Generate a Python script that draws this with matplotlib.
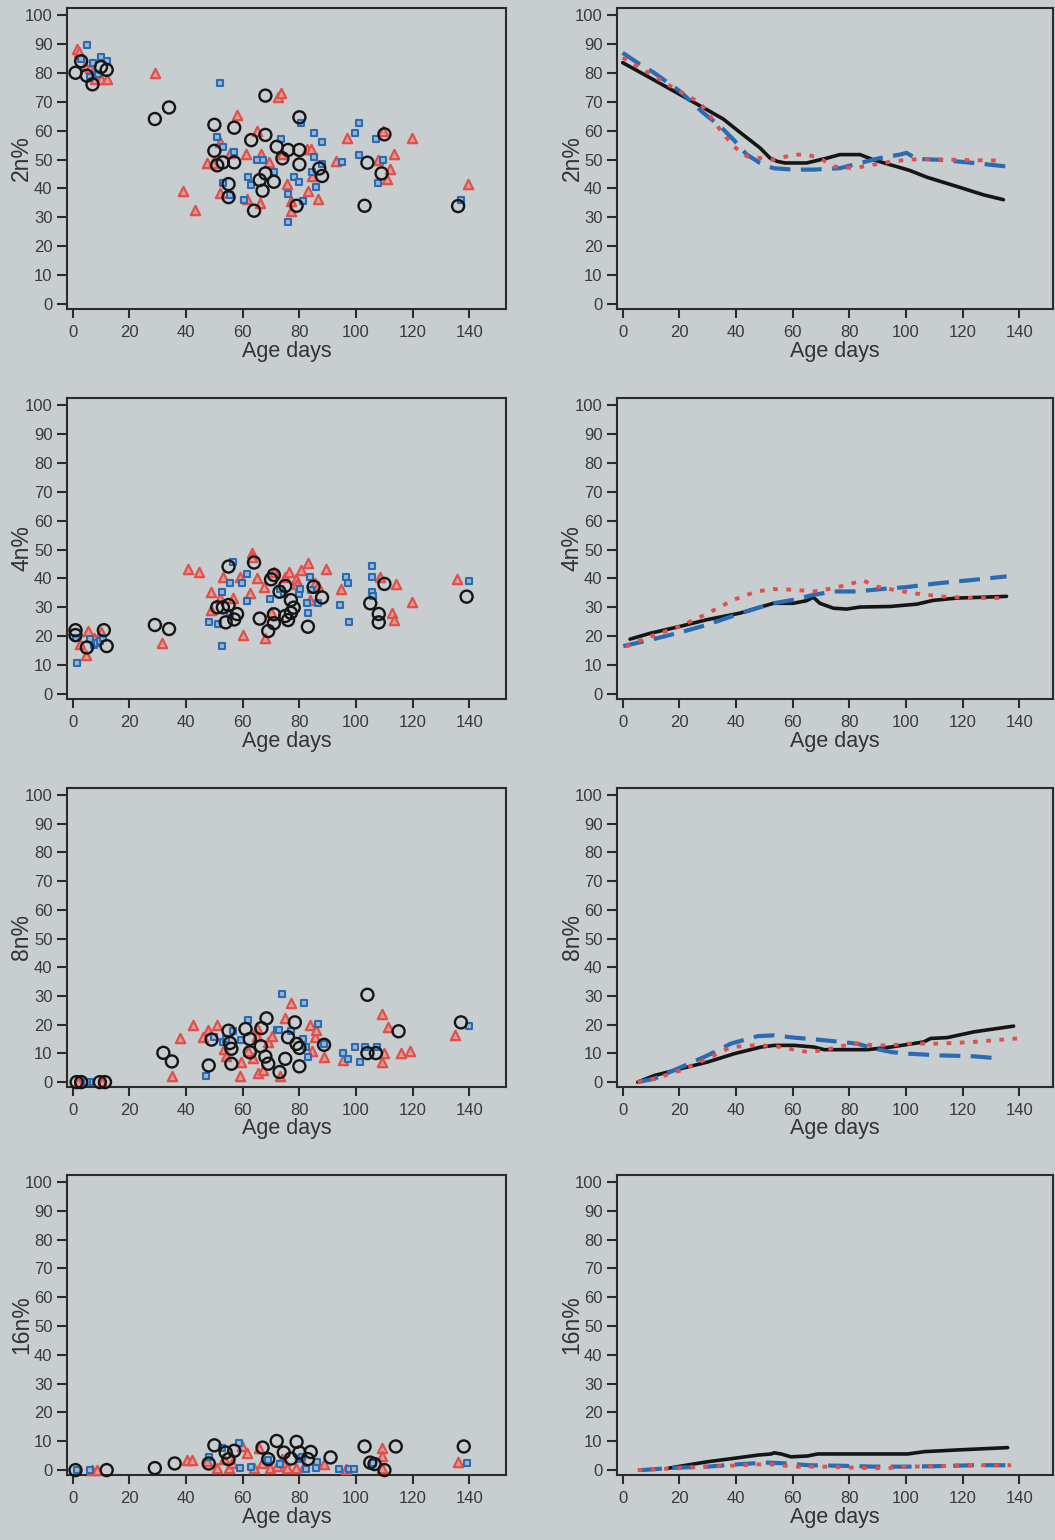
import matplotlib
matplotlib.use("Agg")
import matplotlib.pyplot as plt
import numpy as np

plt.rcParams['font.family'] = ['Liberation Sans', 'DejaVu Sans']

# ---------------- Scatter data (age in days, percentage) ----------------
# Group shown with black open circles
c2_age = [1, 3, 5, 7, 10, 12, 29, 34, 50, 50, 51, 53, 57, 57, 55, 55, 63, 64, 68, 68, 66, 68, 67, 71, 72, 74, 76, 80, 80, 80, 79, 87, 88, 103, 104, 110, 109, 136]
c2_val = [80, 84, 79, 76, 82, 81, 64, 68, 62, 53, 48, 49, 49, 61, 41.5, 37, 56.7, 32.3, 58.5, 72.1, 42.9, 45.2, 39.2, 42.3, 54.4, 50.4, 53.3, 64.6, 53.3, 48.3, 34, 46.9, 44.3, 34, 48.9, 58.7, 45.2, 33.9]
c4_age = [1, 1, 5, 11, 12, 29, 34, 51, 53, 55, 55, 54, 58, 57, 64, 66, 69, 70, 71, 71, 71, 73, 75, 75, 77, 76, 77, 78, 83, 85, 88, 105, 108, 108, 110, 139]
c4_val = [22.1, 20.4, 16.1, 22.1, 16.6, 23.9, 22.5, 30, 30, 44.1, 30.8, 24.8, 27.7, 25.8, 45.5, 26.1, 21.8, 39.7, 41.2, 27.6, 24.5, 35.4, 37.4, 27, 32.5, 25.6, 28.1, 29.9, 23.3, 37.1, 33.4, 31.4, 27.7, 24.8, 38.1, 33.7]
c8_age = [1.4, 3, 9.6, 11.4, 32, 35, 48, 49, 55, 55.5, 56, 56, 61, 62.5, 62.5, 66.4, 66.6, 68.4, 68, 69, 73, 75, 76, 78.4, 79, 80, 80, 88.7, 104, 104, 107, 115, 137]
c8_val = [0, 0, 0, 0, 10.2, 7.2, 5.8, 14.8, 17.9, 13.6, 11.6, 6.4, 18.5, 15, 10.4, 12.5, 18.8, 22.2, 8.9, 6.4, 3.5, 8.1, 15.6, 20.8, 13.3, 11.9, 5.5, 13, 30.4, 10.1, 10.1, 17.7, 20.8]
c16_age = [1, 12, 29, 36, 48, 50, 54, 55, 57, 67, 69, 72, 74.5, 77, 79, 80, 84, 83, 91, 103, 105, 106.5, 110, 114, 138]
c16_val = [0, 0, 0.7, 2.3, 2.3, 8.6, 6.1, 3.8, 6.7, 7.8, 3.8, 10.1, 6.1, 4, 9.8, 6.1, 6.3, 3.8, 4.4, 8.2, 2.6, 2.1, 0, 8.2, 8.2]

# Group shown with blue squares
s2_age = [5, 3, 7, 10, 12, 6, 9, 52, 51, 53, 53, 57, 55.5, 60.6, 62, 63, 65, 67, 71, 73.5, 76, 76, 78, 80, 80.6, 81.4, 85, 85, 86, 88, 88, 84.4, 95, 99.6, 101, 101, 107, 107.6, 109.4, 137]
s2_val = [89.5, 84.7, 83.5, 85.6, 84, 78.4, 79.6, 76.4, 57.9, 54.4, 41.8, 52.7, 37.7, 36, 44, 41.2, 50, 49.8, 45.7, 57, 28.3, 38, 44, 42.3, 62.7, 35.8, 59.3, 51, 40.4, 56.2, 48.4, 45.8, 49.2, 59.3, 62.7, 51.6, 57, 41.8, 50, 36]
s4_age = [1.4, 1, 6, 7.5, 8.5, 9.6, 10.8, 48, 51.4, 52.6, 52.6, 55.5, 56.5, 55.5, 59.6, 61.4, 61.6, 69.6, 73, 74.4, 80, 80.2, 82.6, 83.2, 83.8, 84, 86.4, 94.4, 96.5, 97.3, 97.6, 105.5, 105.5, 105.5, 106, 140]
s4_val = [10.6, 19.3, 18.9, 17, 17.5, 18.5, 19.3, 25, 24.2, 35.4, 16.6, 27.9, 45.8, 38.3, 38.3, 32.3, 41.5, 32.8, 36.2, 34.6, 34.6, 36.2, 31.4, 27.9, 40.4, 36, 31.6, 30.8, 40.6, 38.3, 24.8, 44.3, 40.4, 35.4, 33.9, 39.2]
s8_age = [6, 5, 47, 50, 53, 54, 56.6, 59.3, 61.7, 72, 72.7, 74, 77, 81.7, 81.3, 82.5, 83, 86.4, 88.7, 95.4, 97, 99.5, 101.3, 103, 107.5, 140]
s8_val = [0, 0, 2.3, 15.6, 13.9, 15, 17.9, 14.5, 21.6, 18.2, 18.2, 30.6, 17.9, 27.7, 15, 12.1, 8.7, 20.2, 13.3, 10.1, 8.1, 12.1, 6.9, 12.1, 12.1, 19.4]
s16_age = [1.4, 6, 48, 52.7, 58.6, 59.2, 63, 69, 73, 80, 81, 82.5, 85.7, 86.3, 94, 97.5, 99.3, 106, 139]
s16_val = [0, 0, 4.4, 7.8, 9.3, 0.9, 1.2, 3.6, 2.1, 3.8, 4.4, 0.3, 0.9, 2.9, 0.3, 0.3, 0.3, 2.6, 2.4]

# Group shown with red triangles
t2_age = [1.6, 2.4, 4.4, 6, 8, 10, 12, 29, 39, 43, 47.5, 49.4, 52, 52, 55.5, 58, 61, 61.6, 65, 66, 66.4, 69.4, 72.6, 73.4, 73.8, 75.8, 77, 77, 82.6, 84, 83, 86.6, 84.4, 93, 96.7, 107.6, 109.6, 110.8, 112, 113.5, 119.6, 139.6]
t2_val = [88.1, 87.3, 82.4, 81.5, 77.7, 78, 78, 79.8, 39.2, 32.5, 48.9, 48.9, 56.2, 38.5, 52.1, 65.4, 51.9, 36.2, 60, 34.8, 51.9, 49.2, 71.7, 72.9, 51.9, 41.4, 35.8, 32.3, 53.5, 53.5, 39.2, 36.2, 44.3, 49.6, 57.3, 50, 60, 43.1, 46.6, 51.9, 57.3, 41.5]
t4_age = [2.6, 5.5, 4.7, 7.6, 10, 31.4, 40.8, 44.4, 48.7, 48.7, 53, 52, 56.5, 59, 60, 62.4, 63.2, 63.2, 65, 67.5, 68, 70, 71, 75, 76.5, 78.8, 79.3, 80.5, 83.2, 83.8, 85.5, 86.7, 89.4, 94.6, 108.5, 112.6, 113.4, 114, 119.6, 135.5]
t4_val = [17.3, 21.9, 13.5, 19.3, 21.6, 17.8, 43.3, 42.3, 35.2, 29.1, 40.6, 33.4, 33.4, 40.6, 20.4, 35.1, 48.7, 47.5, 40, 37.1, 19.3, 28.5, 42.3, 40.4, 42.3, 39.7, 38.1, 42.9, 45.4, 32.5, 38.3, 37.4, 43.1, 36.2, 40.6, 28.1, 25.6, 37.9, 31.9, 39.7]
t8_age = [2, 10.2, 35, 38, 42.5, 46, 47.6, 50.8, 53.5, 54, 59, 59.4, 62, 63.7, 65, 65.2, 65.5, 67.2, 69, 70.2, 73, 75, 77.2, 83.7, 84.3, 85.4, 86, 88.7, 95.4, 109.3, 110, 109.3, 111.3, 116, 119, 134.8]
t8_val = [0, 0, 2, 15.4, 19.9, 15.8, 18.2, 19.9, 11.6, 9.2, 2, 6.9, 11, 8.4, 16.2, 18.8, 3.1, 4.3, 13.9, 16.2, 2, 22.2, 27.4, 19.9, 11, 15.6, 18.2, 8.7, 7.7, 23.7, 10.2, 6.9, 19.1, 10.1, 11, 16.5]
t16_age = [6.7, 8.5, 40.3, 42, 47.4, 51, 53.3, 55, 56.2, 59.8, 61.6, 63.9, 65.7, 66.9, 69.8, 72.2, 73.9, 75, 75.7, 78.7, 81.6, 88.7, 96.3, 109.3, 109.3, 109.3, 135.8]
t16_val = [0, 0, 3.6, 3.6, 3.2, 0.9, 3.8, 0.6, 2.6, 8.4, 6.1, 0.6, 7.8, 2.6, 0.9, 1.5, 4, 2.6, 0.6, 0.9, 1.5, 2.1, 0.3, 7.8, 5, 0.9, 2.9]

# ---------------- Smoothed trend curves ----------------
k2_age = [0, 9.6, 20.2, 29.6, 35.5, 41.4, 48.5, 52, 54.4, 57.3, 64.9, 72.2, 76.7, 83.8, 88.5, 95.5, 101.4, 107.3, 117.9, 127.3, 134.4]
k2_val = [83.5, 78.3, 72.5, 67.3, 64, 59.4, 54, 50.5, 49.4, 48.8, 48.8, 50.5, 51.7, 51.7, 49.9, 47.9, 46.2, 43.9, 40.7, 37.8, 36.1]
b2_age = [0, 6.1, 10.8, 20.2, 28.5, 34.4, 39.1, 43.8, 48.5, 53.2, 60.2, 67.3, 76.7, 83.8, 90.8, 97.9, 100.2, 103.8, 112, 123.8, 135.5]
b2_val = [86.9, 82.9, 80.2, 73.6, 66.1, 61.5, 56.9, 51.7, 48.8, 47, 46.5, 46.5, 47, 48.8, 50.5, 51.7, 52.3, 50.2, 49.9, 48.8, 47.6]
r2_age = [0, 6.1, 17.9, 27.3, 34.4, 39.1, 43.8, 53.2, 60.2, 64.9, 69.6, 74.4, 81.4, 88.5, 95.5, 100.5, 106.1, 117.9, 134.4]
r2_val = [85.2, 81.7, 74.8, 69.6, 60.3, 54.6, 51.1, 49.9, 51.7, 51.7, 50.5, 47.6, 47, 48.2, 49.4, 49.9, 50.2, 49.9, 49.6]

k4_age = [2.6, 9.6, 20.2, 29.6, 41.4, 53.2, 60.2, 64.9, 67.3, 69.6, 74.4, 79.1, 83.8, 94.4, 103.8, 109.6, 117.9, 127.3, 135.5]
k4_val = [19, 21, 23.4, 25.7, 28, 31.4, 31.4, 32.3, 33.5, 31.4, 29.7, 29.4, 30.1, 30.3, 31.1, 32.4, 33.2, 33.5, 33.8]
b4_age = [0.2, 9.6, 20.2, 29.6, 39.1, 47.3, 53.2, 60.2, 67.3, 74.4, 82.6, 94.4, 100.2, 112, 123.8, 135.5]
b4_val = [16.6, 18.7, 21.3, 23.9, 27.1, 29.7, 31.4, 32.6, 34.3, 35.5, 35.5, 36.6, 37, 38.4, 39.5, 40.7]
r4_age = [1.2, 9.6, 20.2, 29.6, 39.1, 47.3, 53.2, 60.2, 67.3, 74.4, 81.4, 84.9, 89.6, 95.5, 102.6, 112, 123.8, 134.4]
r4_val = [16.4, 19.9, 23.4, 27.7, 32.6, 35.5, 36.3, 36.1, 35.5, 36.6, 38.4, 39.3, 37.2, 36.1, 34.9, 33.8, 33.2, 33.2]

k8_age = [5.3, 11.2, 20.6, 30, 39.4, 48.8, 53.5, 60.5, 67.6, 71.1, 77, 86.4, 94.6, 100.5, 106.3, 108.7, 114.6, 124, 138]
k8_val = [0, 2.3, 4.7, 7, 9.9, 12.2, 12.8, 12.8, 12.2, 11.3, 11.3, 11.3, 12.2, 13.1, 14, 15.2, 15.5, 17.5, 19.5]
b8_age = [5.3, 11.2, 20.6, 30, 38.2, 47.6, 53.5, 60.5, 68.7, 77, 82.8, 88.7, 94.6, 100.5, 112.2, 123.9, 133.4]
b8_val = [0, 1.2, 5.2, 9.3, 13.4, 16, 16.3, 15.5, 14.8, 14, 13.4, 11.7, 10.5, 9.9, 9.3, 9, 8.2]
r8_age = [5.3, 11.2, 20.6, 30, 38.2, 46.4, 53.5, 60.5, 65.2, 71.1, 77, 82.8, 88.7, 94.6, 100.5, 112.2, 124, 139.2]
r8_val = [0, 1.2, 4.1, 8.2, 12.2, 12.8, 12.6, 11.3, 10.5, 11.1, 12.5, 13.4, 12.8, 12.8, 13.4, 13.4, 14, 15.2]

k16_age = [15.9, 20.6, 30, 39.4, 47.6, 52.4, 53.5, 55.9, 59.4, 65.3, 68.8, 77.1, 88.8, 100.6, 106.5, 118.2, 135.9]
k16_val = [0.6, 1.4, 2.9, 4.1, 5.2, 5.6, 6, 5.6, 4.6, 4.9, 5.6, 5.6, 5.6, 5.6, 6.4, 7, 7.8]
b16_age = [6.5, 18.2, 30, 41.8, 51.2, 58.2, 65.3, 77.1, 88.8, 100.6, 112.4, 124.1, 137.1]
b16_val = [0, 0.8, 1.2, 2.1, 2.6, 2.3, 1.7, 1.5, 1.2, 1.2, 1.4, 1.7, 1.7]
r16_age = [5.3, 18.2, 30, 41.8, 51.2, 60.6, 71.2, 82.9, 92.4, 100.6, 112.4, 124.1, 137.1]
r16_val = [0, 0.6, 1.2, 1.7, 2.1, 1.2, 1.2, 0.8, 0.6, 1.2, 1.4, 1.7, 1.7]

row_labels = ["2n%", "4n%", "8n%", "16n%"]
x_ticks = [0, 20, 40, 60, 80, 100, 120, 140]
y_ticks = [0, 10, 20, 30, 40, 50, 60, 70, 80, 90, 100]
x_label = "Age days"

scatter_rows = [
    ((c2_age, c2_val), (s2_age, s2_val), (t2_age, t2_val)),
    ((c4_age, c4_val), (s4_age, s4_val), (t4_age, t4_val)),
    ((c8_age, c8_val), (s8_age, s8_val), (t8_age, t8_val)),
    ((c16_age, c16_val), (s16_age, s16_val), (t16_age, t16_val)),
]
curve_rows = [
    ((k2_age, k2_val), (b2_age, b2_val), (r2_age, r2_val)),
    ((k4_age, k4_val), (b4_age, b4_val), (r4_age, r4_val)),
    ((k8_age, k8_val), (b8_age, b8_val), (r8_age, r8_val)),
    ((k16_age, k16_val), (b16_age, b16_val), (r16_age, r16_val)),
]

# ---------------- Styling ----------------
BG = "#c8cdcf"
INK = "#2b2b2b"
BLACK = "#151515"
BLUE = "#2a6cb3"
BLUE_FILL = "#9db6cf"
RED = "#e0504c"
RED_FILL = "#e39a90"

W, H = 1055, 1540
fig = plt.figure(figsize=(W / 100, H / 100), dpi=100, facecolor=BG)

# pixel geometry of the panels
row_top_px = [8, 398, 788, 1175]
row_bot_px = [309, 699, 1087, 1475]
col_px = [(67, 506, 152.9), (617, 1053, 151.9)]


def style_axes(ax, ylabel, xmax):
    ax.set_facecolor(BG)
    ax.set_xlim(-2, xmax)
    ax.set_ylim(-1.7, 102.4)
    ax.set_xticks(x_ticks)
    ax.set_yticks(y_ticks)
    for sp in ax.spines.values():
        sp.set_color(INK)
        sp.set_linewidth(1.5)
    ax.tick_params(axis="both", colors=INK, labelcolor="#3a3a3a", width=1.5,
                   labelsize=12)
    ax.tick_params(axis="y", length=7.5, pad=3)
    ax.tick_params(axis="x", length=6.5, pad=5)
    ax.set_ylabel(ylabel, fontsize=16.5, color="#333333", va="center")
    ax.yaxis.set_label_coords(-0.103, 0.5)
    ax.set_xlabel(x_label, fontsize=15.5, color="#333333")
    ax.xaxis.set_label_coords(0.5, -0.105)


for r in range(4):
    top, bot = row_top_px[r], row_bot_px[r]
    for c in range(2):
        x0, x1, xmax = col_px[c]
        ax = fig.add_axes([x0 / W, 1 - bot / H, (x1 - x0) / W, (bot - top) / H])
        style_axes(ax, row_labels[r], xmax)
        if c == 0:
            circ, sq, tri = scatter_rows[r]
            ax.scatter(tri[0], tri[1], marker="^", s=45, facecolor=RED_FILL,
                       edgecolor=RED, linewidth=1.6, zorder=3, clip_on=False)
            ax.scatter(sq[0], sq[1], marker="s", s=20, facecolor=BLUE_FILL,
                       edgecolor=BLUE, linewidth=1.5, zorder=4, clip_on=False)
            ax.scatter(circ[0], circ[1], marker="o", s=75, facecolor="none",
                       edgecolor=BLACK, linewidth=1.7, zorder=5, clip_on=False)
        else:
            k, b, rr = curve_rows[r]
            ax.plot(k[0], k[1], color=BLACK, lw=2.6, solid_capstyle="round", zorder=3)
            ax.plot(b[0], b[1], color=BLUE, lw=3.0, dashes=(5, 2.5), zorder=4)
            ax.plot(rr[0], rr[1], color=RED, lw=2.8, dashes=(1.2, 2.2), zorder=5)

fig.savefig("out.png", dpi=100, facecolor=BG)
